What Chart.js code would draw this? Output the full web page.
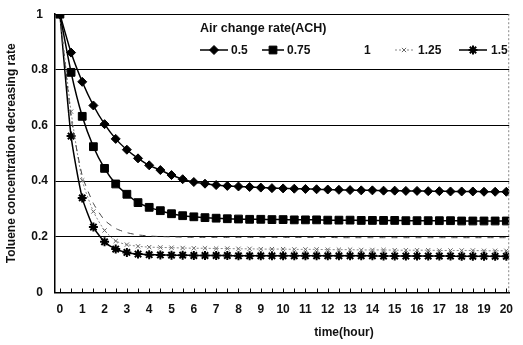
<!DOCTYPE html>
<html>
<head>
<meta charset="utf-8">
<script src="https://cdn.jsdelivr.net/npm/chart.js@4.4.0/dist/chart.umd.min.js"></script>
<style>
  html, body { margin: 0; padding: 0; background: #fff; }
  #wrap { width: 523px; height: 345px; position: relative; }
</style>
</head>
<body>
<div id="wrap"><canvas id="chart"></canvas></div>
<script>
    // 时间 (hour)
    const hours = [0, 0.5, 1, 1.5, 2, 2.5, 3, 3.5, 4, 4.5, 5, 5.5, 6, 6.5, 7, 7.5, 8, 8.5, 9, 9.5,
        10, 10.5, 11, 11.5, 12, 12.5, 13, 13.5, 14, 14.5, 15, 15.5, 16, 16.5, 17, 17.5, 18, 18.5, 19, 19.5, 20];

    // 各换气次数下的浓度降低率
    const ach05 = [1, 0.862, 0.757, 0.672, 0.605, 0.552, 0.513, 0.482, 0.457, 0.44, 0.422, 0.407, 0.397, 0.391,
        0.386, 0.383, 0.381, 0.379, 0.377, 0.375, 0.374, 0.373, 0.372, 0.371, 0.370, 0.369, 0.368, 0.367,
        0.367, 0.366, 0.366, 0.365, 0.365, 0.364, 0.364, 0.363, 0.363, 0.363, 0.362, 0.362, 0.362];
    const ach075 = [1, 0.791, 0.633, 0.524, 0.446, 0.39, 0.353, 0.323, 0.306, 0.294, 0.283, 0.276, 0.272, 0.269,
        0.267, 0.265, 0.264, 0.263, 0.263, 0.262, 0.262, 0.261, 0.261, 0.261, 0.260, 0.260, 0.260, 0.259,
        0.259, 0.259, 0.259, 0.258, 0.258, 0.258, 0.258, 0.258, 0.257, 0.257, 0.257, 0.257, 0.257];
    const ach1 = [1, 0.63, 0.42, 0.32, 0.26, 0.23, 0.215, 0.207, 0.203, 0.201, 0.2, 0.199, 0.198, 0.198,
        0.198, 0.198, 0.198, 0.198, 0.198, 0.198, 0.198, 0.198, 0.198, 0.198, 0.198, 0.197, 0.197, 0.197,
        0.197, 0.197, 0.197, 0.197, 0.197, 0.197, 0.197, 0.197, 0.197, 0.197, 0.197, 0.197, 0.197];
    const ach125 = [1, 0.65, 0.403, 0.291, 0.223, 0.185, 0.172, 0.166, 0.163, 0.162, 0.161, 0.160, 0.159, 0.159,
        0.158, 0.158, 0.157, 0.157, 0.156, 0.156, 0.156, 0.155, 0.155, 0.155, 0.154, 0.154, 0.154, 0.153,
        0.153, 0.153, 0.152, 0.152, 0.152, 0.152, 0.151, 0.151, 0.151, 0.151, 0.150, 0.150, 0.150];
    const ach15 = [1, 0.562, 0.340, 0.235, 0.182, 0.156, 0.144, 0.138, 0.136, 0.135, 0.134, 0.134, 0.133, 0.133,
        0.133, 0.133, 0.132, 0.132, 0.132, 0.132, 0.132, 0.132, 0.132, 0.132, 0.132, 0.132, 0.132, 0.132,
        0.132, 0.131, 0.131, 0.131, 0.131, 0.131, 0.131, 0.131, 0.130, 0.130, 0.130, 0.130, 0.130];

    const seriesNames = ['0.5', '0.75', '1', '1.25', '1.5'];
    const yTicks = [0, 0.2, 0.4, 0.6, 0.8, 1];

    const FONT = 'Liberation Sans, Arial, sans-serif';

    function pts(values) {
        return values.map((v, i) => ({ x: hours[i], y: v }));
    }

    // 图内图例 + x 轴内侧刻度 + 右边框
    const extras = {
        id: 'extras',
        afterDraw(chart) {
            const ctx = chart.ctx;
            const area = chart.chartArea;
            const xs = chart.scales.x;

            ctx.save();
            // 内侧小刻度
            ctx.strokeStyle = '#000';
            ctx.lineWidth = 1;
            hours.forEach(h => {
                const px = Math.round(xs.getPixelForValue(h)) + 0.5;
                ctx.beginPath();
                ctx.moveTo(px, area.bottom);
                ctx.lineTo(px, area.bottom - 4);
                ctx.stroke();
            });
            // 右边框 (虚线)
            ctx.strokeStyle = '#888';
            ctx.setLineDash([2, 2]);
            ctx.beginPath();
            ctx.moveTo(area.right - 0.5, area.top);
            ctx.lineTo(area.right - 0.5, area.bottom);
            ctx.stroke();
            ctx.setLineDash([]);

            // x 轴标题
            ctx.fillStyle = '#111';
            ctx.font = 'bold 12px ' + FONT;
            ctx.textAlign = 'center';
            ctx.textBaseline = 'middle';
            ctx.fillText('time(hour)', 344, 333);

            // 图例
            ctx.textAlign = 'left';
            ctx.font = 'bold 12.5px ' + FONT;
            ctx.fillText('Air change rate(ACH)', 200, 29);
            const items = [
                { x0: 200, x1: 228, tx: 231 },
                { x0: 262, x1: 284, tx: 287 },
                { x0: 0, x1: 0, tx: 364 },
                { x0: 395, x1: 413, tx: 418 },
                { x0: 459, x1: 487, tx: 491 }
            ];
            const ly = 50;
            chart.data.datasets.forEach((ds, i) => {
                const it = items[i];
                if (it.x1 > it.x0) {
                    ctx.strokeStyle = ds.borderColor;
                    ctx.lineWidth = ds.borderWidth;
                    ctx.setLineDash(ds.borderDash || []);
                    ctx.beginPath();
                    ctx.moveTo(it.x0, ly);
                    ctx.lineTo(it.x1, ly);
                    ctx.stroke();
                    ctx.setLineDash([]);
                    if (ds.pointRadius > 0) {
                        ctx.fillStyle = ds.pointBackgroundColor;
                        ctx.strokeStyle = ds.pointBorderColor;
                        ctx.lineWidth = ds.pointBorderWidth;
                        Chart.helpers.drawPoint(ctx, {
                            pointStyle: ds.pointStyle, radius: ds.pointRadius,
                            rotation: 0, borderWidth: ds.pointBorderWidth
                        }, (it.x0 + it.x1) / 2, ly);
                    }
                }
                ctx.fillStyle = '#111';
                ctx.font = 'bold 12px ' + FONT;
                ctx.fillText(ds.label, it.tx, ly + 1);
            });
            ctx.restore();
        }
    };

    function makeDataset(i, values, style) {
        return Object.assign({
            label: seriesNames[i],
            data: pts(values),
            borderColor: '#000',
            borderWidth: 1.5,
            pointBackgroundColor: '#000',
            pointBorderColor: '#000',
            pointBorderWidth: 1,
            pointRadius: 4,
            tension: 0.2
        }, style);
    }

    new Chart(document.getElementById('chart'), {
        type: 'line',
        data: {
            datasets: [
                makeDataset(0, ach05, { pointStyle: 'rectRot', pointRadius: 4.5 }),
                makeDataset(1, ach075, { pointStyle: 'rect', pointRadius: 5.5 }),
                makeDataset(2, ach1, { borderColor: '#444', borderWidth: 1, borderDash: [6, 6], pointRadius: 0 }),
                makeDataset(3, ach125, { borderColor: '#888', borderWidth: 1, borderDash: [2, 2],
                    pointStyle: 'crossRot', pointRadius: 3, pointBorderColor: '#666', pointBackgroundColor: '#666' }),
                makeDataset(4, ach15, { pointStyle: 'star', pointRadius: 4.5, pointBorderWidth: 2 })
            ]
        },
        options: {
            responsive: true,
            maintainAspectRatio: false,
            animation: false,
            layout: { autoPadding: false, padding: { top: 9, right: 2, left: 0, bottom: 0 } },
            plugins: {
                legend: { display: false },
                tooltip: { enabled: false }
            },
            scales: {
                x: {
                    type: 'linear',
                    min: -0.22,
                    max: 20.13,
                    afterFit: s => { s.height = 52.5; },
                    grid: { drawOnChartArea: false, drawTicks: false },
                    border: { color: '#000', width: 1.5 },
                    ticks: {
                        stepSize: 1,
                        includeBounds: false,
                        padding: 10,
                        color: '#111',
                        maxRotation: 0,
                        autoSkip: false,
                        font: { family: FONT, size: 12, weight: 'bold' }
                    }
                },
                y: {
                    min: 0,
                    max: 1,
                    afterFit: s => { s.width = 55; },
                    afterBuildTicks: s => { s.ticks = yTicks.map(v => ({ value: v })); },
                    grid: { color: '#000', lineWidth: 1, drawTicks: false },
                    border: { color: '#000', width: 1.5 },
                    title: {
                        display: true,
                        text: 'Toluene concentration decreasing rate',
                        color: '#111',
                        padding: { top: 4, bottom: 0 },
                        font: { family: FONT, size: 12, weight: 'bold' }
                    },
                    ticks: {
                        crossAlign: 'center',
                        padding: 7,
                        color: '#111',
                        font: { family: FONT, size: 12, weight: 'bold' },
                        callback: v => String(v)
                    }
                }
            }
        },
        plugins: [extras]
    });
</script>
</body>
</html>
